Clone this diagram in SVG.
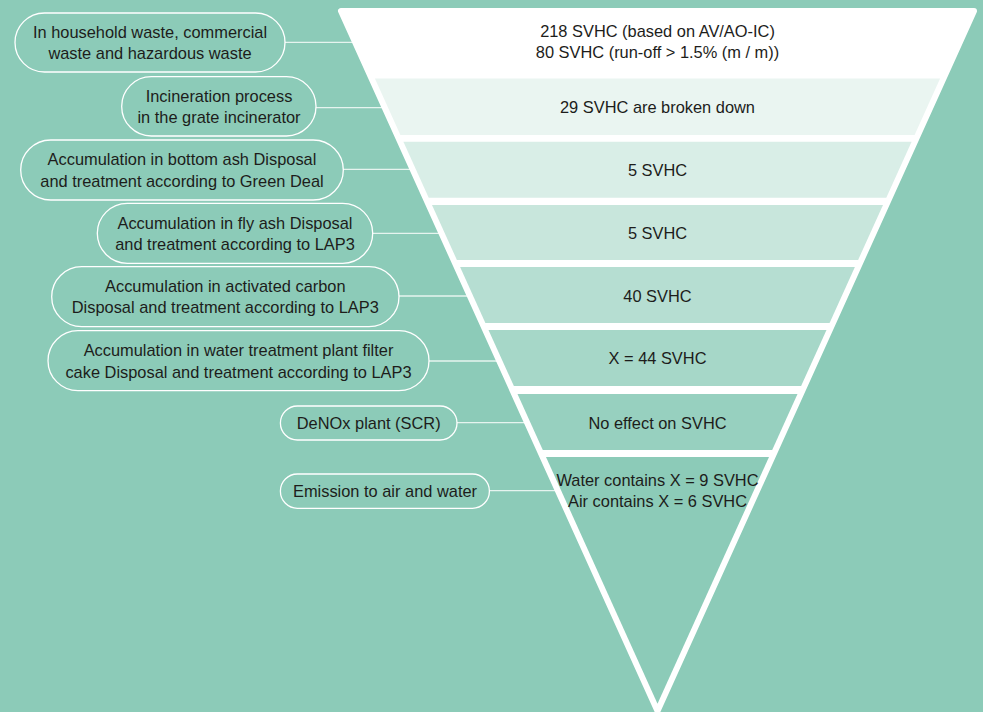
<svg xmlns="http://www.w3.org/2000/svg" width="983" height="712" viewBox="0 0 983 712">
<style>
.bg{fill:#8ccbb8}
.pill{fill:none;stroke:#ffffff;stroke-width:1.3}
.conn{stroke:#e6f4ef;stroke-width:1.3;fill:none}
.t{font-family:"Liberation Sans",Arial,sans-serif;font-size:16.4px;fill:#1d1d1b;text-anchor:middle}
</style>
<rect class="bg" x="0" y="0" width="983" height="712"/>
<g id="connectors">
<line class="conn" x1="285" y1="42.3" x2="354" y2="42.3"/>
<line class="conn" x1="316" y1="107.7" x2="383" y2="107.7"/>
<line class="conn" x1="343" y1="169.3" x2="411" y2="169.3"/>
<line class="conn" x1="373" y1="233.3" x2="440" y2="233.3"/>
<line class="conn" x1="399" y1="296" x2="469" y2="296"/>
<line class="conn" x1="429" y1="361" x2="498" y2="361"/>
<line class="conn" x1="457" y1="422.7" x2="525" y2="422.7"/>
<line class="conn" x1="489" y1="490.7" x2="556" y2="490.7"/>
</g>
<g id="funnel">
<polygon points="341,11 974,11 657.5,711" fill="#ffffff" stroke="#ffffff" stroke-width="6" stroke-linejoin="round"/>
<polygon id="band2" points="374.9,78.5 940.1,78.5 914.6,135 400.4,135" fill="#eaf5f1"/>
<polygon id="band3" points="403.4,141.7 911.6,141.7 886.3,197.7 428.7,197.7" fill="#d9eee7"/>
<polygon id="band4" points="432,205 883,205 858.1,260 456.9,260" fill="#c8e6dc"/>
<polygon id="band5" points="460.1,267 854.9,267 829.6,323 485.4,323" fill="#b6ded2"/>
<polygon id="band6" points="488.5,330 826.5,330 801.1,386 513.9,386" fill="#a6d7c8"/>
<polygon id="band7" points="517.5,394 797.5,394 772.2,450 542.8,450" fill="#97d0bf"/>
<polygon id="band8" points="546,457 769,457 657.5,703.8" fill="#8ccbb8"/>
<text class="t" x="657.5" y="37">218 SVHC (based on AV/AO-IC)</text>
<text class="t" x="657.5" y="57.5">80 SVHC (run-off &gt; 1.5% (m / m))</text>
<text class="t" x="657.5" y="113">29 SVHC are broken down</text>
<text class="t" x="657.5" y="175.5">5 SVHC</text>
<text class="t" x="657.5" y="238.5">5 SVHC</text>
<text class="t" x="657.5" y="301.5">40 SVHC</text>
<text class="t" x="657.5" y="364">X = 44 SVHC</text>
<text class="t" x="657.5" y="428.5">No effect on SVHC</text>
<text class="t" x="657.5" y="485.5">Water contains X = 9 SVHC</text>
<text class="t" x="657.5" y="506.5">Air contains X = 6 SVHC</text>
</g>
<g id="n1">
<rect class="pill" x="15" y="13" width="270" height="59" rx="29.5"/>
<text class="t" x="150" y="37.5">In household waste, commercial</text>
<text class="t" x="150" y="59">waste and hazardous waste</text>
</g>
<g id="n2">
<rect class="pill" x="121.7" y="76.7" width="194.3" height="59.3" rx="29.6"/>
<text class="t" x="219" y="101.7">Incineration process</text>
<text class="t" x="219" y="123.3">in the grate incinerator</text>
</g>
<g id="n3">
<rect class="pill" x="20.7" y="140" width="322.6" height="60" rx="30"/>
<text class="t" x="182" y="165">Accumulation in bottom ash Disposal</text>
<text class="t" x="182" y="186.5">and treatment according to Green Deal</text>
</g>
<g id="n4">
<rect class="pill" x="97.3" y="203.3" width="275.4" height="60" rx="30"/>
<text class="t" x="235" y="228.5">Accumulation in fly ash Disposal</text>
<text class="t" x="235" y="250">and treatment according to LAP3</text>
</g>
<g id="n5">
<rect class="pill" x="51.7" y="266.7" width="347.3" height="60" rx="30"/>
<text class="t" x="225.3" y="291.7">Accumulation in activated carbon</text>
<text class="t" x="225.3" y="313.3">Disposal and treatment according to LAP3</text>
</g>
<g id="n6">
<rect class="pill" x="48" y="330.7" width="381" height="60" rx="30"/>
<text class="t" x="238.5" y="356">Accumulation in water treatment plant filter</text>
<text class="t" x="238.5" y="377.5">cake Disposal and treatment according to LAP3</text>
</g>
<g id="n7">
<rect class="pill" x="280.4" y="406" width="176.6" height="34" rx="17"/>
<text class="t" x="368.7" y="428.5">DeNOx plant (SCR)</text>
</g>
<g id="n8">
<rect class="pill" x="280.4" y="474" width="209" height="34.3" rx="17"/>
<text class="t" x="385" y="496.5">Emission to air and water</text>
</g>
</svg>
